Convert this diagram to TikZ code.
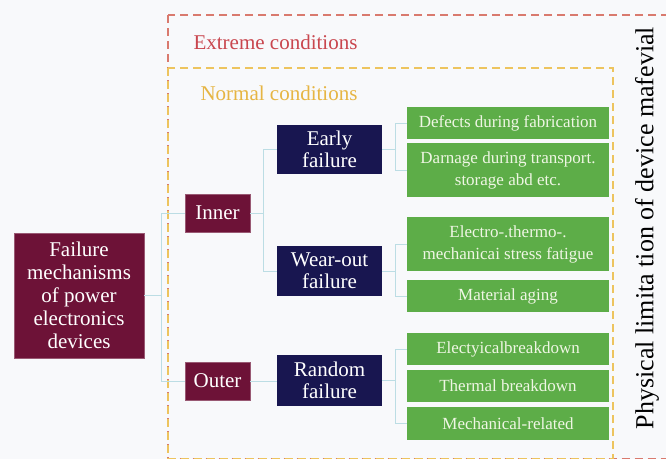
\documentclass[tikz,border=0pt]{standalone}
\usepackage{fontspec}
\setmainfont{Liberation Serif}
\definecolor{maroonbox}{HTML}{6D1237}
\definecolor{navybox}{HTML}{181650}
\definecolor{greenbox}{HTML}{5DAD48}
\definecolor{greentext}{HTML}{EFF6E4}
\definecolor{linkcol}{HTML}{BCDDE4}
\definecolor{extremecol}{HTML}{D97A6E}
\definecolor{extremetext}{HTML}{C9464E}
\definecolor{normalcol}{HTML}{EDC45E}
\definecolor{normaltext}{HTML}{E6B543}
\definecolor{bgcol}{HTML}{F8F9FB}
\tikzset{
  base/.style={inner sep=0pt, align=center, minimum width=#1},
  rootbox/.style={base=130pt, fill=maroonbox, draw=maroonbox!70!white, line width=0.6pt, text=white,
    font=\fontsize{21}{23}\selectfont, minimum height=125pt},
  catbox/.style={base=65pt, fill=maroonbox, draw=maroonbox!70!white, line width=0.6pt, text=white,
    font=\fontsize{21}{23}\selectfont, minimum height=38pt},
  typebox/.style={base=105pt, fill=navybox, text=white,
    font=\fontsize{21}{22}\selectfont, minimum height=50pt},
  leafbox/.style={base=202pt, fill=greenbox, text=greentext,
    font=\fontsize{17}{22}\selectfont, minimum height=#1},
  conn/.style={draw=linkcol, line width=0.9pt},
  extremeframe/.style={draw=extremecol, line width=1.4pt, dash pattern=on 8pt off 5pt},
  normalframe/.style={draw=normalcol, line width=1.4pt, dash pattern=on 8pt off 5pt},
}
\begin{document}
\begin{tikzpicture}[x=1pt, y=-1pt]
  \useasboundingbox (0,0) rectangle (666,459);
  \fill[bgcol] (0,0) rectangle (666,459);

  % condition frames
  \begin{scope}
    \clip (0,0) rectangle (666,459);
    \draw[extremeframe] (168,15) rectangle (690,458.5);
    \draw[normalframe] (168,68) rectangle (613,458.5);
  \end{scope}
  \node[anchor=west, text=extremetext, font=\fontsize{21}{23}\selectfont] (extreme) at (190,42) {Extreme conditions};
  \node[anchor=west, text=normaltext, font=\fontsize{21}{23}\selectfont] (normal) at (197,93) {Normal conditions};
  \node[rotate=90, font=\fontsize{26}{28}\selectfont] (limit) at (647,228) {Physical limita tion of device mafevial};

  % boxes
  \node[rootbox] (root) at (79,295.5) {Failure\\mechanisms\\of power\\electronics\\devices};
  \node[catbox] (inner) at (217.5,213) {Inner};
  \node[catbox] (outer) at (217.5,381) {Outer};
  \node[typebox, minimum height=49pt] (early) at (329.5,149.5) {Early\\failure};
  \node[typebox] (wear) at (329.5,271) {Wear-out\\failure};
  \node[typebox, minimum height=51pt] (random) at (329.5,380.5) {Random\\failure};

  \node[leafbox=32pt] (d1) at (508,123) {Defects during fabrication};
  \node[leafbox=54pt] (d2) at (508,170) {Darnage during transport.\\storage abd etc.};
  \node[leafbox=54pt] (w1) at (508,244) {Electro-.thermo-.\\mechanicai stress fatigue};
  \node[leafbox=32pt] (w2) at (508,296) {Material aging};
  \node[leafbox=32pt] (r1) at (508,349) {Electyicalbreakdown};
  \node[leafbox=32pt] (r2) at (508,386) {Thermal breakdown};
  \node[leafbox=33pt] (r3) at (508,423.5) {Mechanical-related};

  % connectors
  \coordinate (j0) at (161,0);
  \coordinate (j1) at (263,0);
  \coordinate (j2) at (395,0);
  \draw[conn] (root.east) -- (root.east -| j0);
  \draw[conn] (inner.west) -- (inner.west -| j0) -- (outer.west -| j0) -- (outer.west);
  \draw[conn] (inner.east) -- (inner.east -| j1);
  \draw[conn] (early.west) -- (early.west -| j1) -- (wear.west -| j1) -- (wear.west);
  \draw[conn] (outer.east) -- (outer.east -| random.west);
  \draw[conn] (early.east) -- (early.east -| j2);
  \draw[conn] (d1.west) -- (d1.west -| j2) -- (d2.west -| j2) -- (d2.west);
  \draw[conn] (wear.east) -- (wear.east -| j2);
  \draw[conn] (w1.west) -- (w1.west -| j2) -- (w2.west -| j2) -- (w2.west);
  \draw[conn] (random.east) -- (random.east -| j2);
  \draw[conn] (r1.west) -- (r1.west -| j2) -- (r3.west -| j2) -- (r3.west);
\end{tikzpicture}
\end{document}
